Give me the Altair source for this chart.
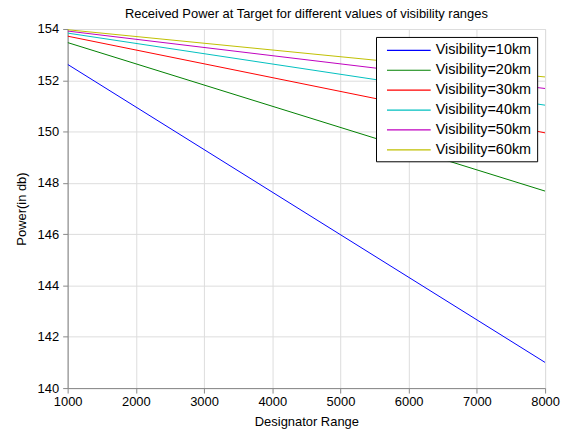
import altair as alt
import pandas as pd

ranges = [1000, 8000]
labels = ["Visibility=10km", "Visibility=20km", "Visibility=30km",
          "Visibility=40km", "Visibility=50km", "Visibility=60km"]
power_start = [152.62, 153.47, 153.72, 153.84, 153.92, 153.97]
power_end = [141.0, 147.68, 149.95, 151.03, 151.68, 152.13]
colors = ["#0000FF", "#008000", "#FF0000", "#00BFBF", "#BF00BF", "#BFBF00"]

rows = []
for lab, p0, p1 in zip(labels, power_start, power_end):
    rows.append({"range": ranges[0], "power": p0, "series": lab})
    rows.append({"range": ranges[1], "power": p1, "series": lab})
df = pd.DataFrame(rows)

FONT = "Liberation Sans"

chart = alt.Chart(df).mark_line(strokeWidth=1, clip=True).encode(
    x=alt.X("range:Q",
            scale=alt.Scale(domain=[1000, 8000], nice=False, zero=False),
            axis=alt.Axis(values=list(range(1000, 8001, 1000)), format="d",
                          title="Designator Range", titleFontWeight="normal",
                          titleFontSize=13, labelFontSize=13,
                          labelFlush=False, titlePadding=7, labelPadding=3)),
    y=alt.Y("power:Q",
            scale=alt.Scale(domain=[140, 154], nice=False, zero=False),
            axis=alt.Axis(values=list(range(140, 155, 2)),
                          title="Power(in db)", titleFontWeight="normal",
                          titleFontSize=13, labelFontSize=13,
                          labelFlush=False, titlePadding=9, labelPadding=4)),
    color=alt.Color("series:N", sort=labels,
                    scale=alt.Scale(domain=labels, range=colors),
                    legend=alt.Legend(title=None, orient="none",
                                      legendX=310, legendY=8,
                                      symbolType="M-0.33,0H5.53", symbolSize=225,
                                      symbolStrokeWidth=1.2, symbolFillColor="transparent",
                                      labelFontSize=14.5, labelFont=FONT,
                                      labelColor="#000000",
                                      rowPadding=5, padding=5,
                                      strokeColor="#000000", fillColor="white",
                                      labelOffset=38)),
).properties(
    width=480, height=361,
    title=alt.TitleParams("Received Power at Target for different values of visibility ranges",
                          fontSize=13, fontWeight="normal", font=FONT, color="#000000",
                          offset=2),
).configure_view(
    stroke="#000000", strokeWidth=1
).configure_axis(
    labelFont=FONT, titleFont=FONT,
    labelColor="#000000", titleColor="#000000",
    ticks=False, domain=False,
    grid=True, gridColor="#333333", gridDash=[1, 2], gridWidth=1, gridOpacity=0.8,
).configure(padding={"left": 15, "top": 7, "right": 5, "bottom": 3})

chart.save("out.html", embed_options={"renderer": "svg", "actions": False})
